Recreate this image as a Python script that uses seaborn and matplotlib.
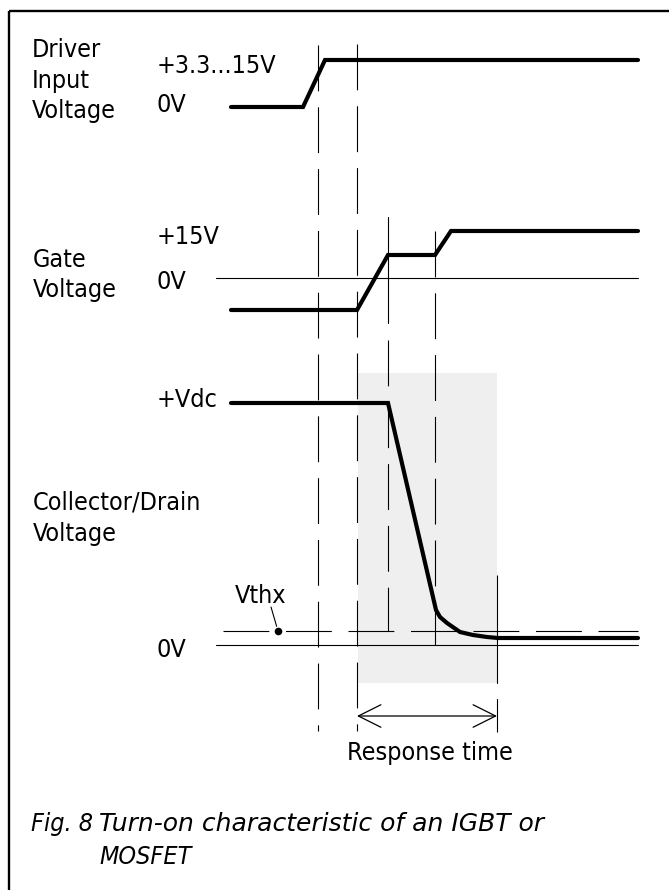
import matplotlib
matplotlib.use('Agg')
import matplotlib.pyplot as plt
import seaborn as sns
from matplotlib.patches import Rectangle

sns.set_theme(style='white')
plt.rcParams['font.family'] = ['DejaVu Sans']
plt.rcParams['lines.scale_dashes'] = False

# waveform breakpoints (time axis, level axis)
t_driver = [231, 303, 325, 638]
v_driver = [107, 107, 60, 60]

t_gate = [231, 357, 388, 435, 451, 638]
v_gate = [310, 310, 255, 255, 231, 231]

t_coll = [231, 388, 436, 440, 447, 460, 473, 487, 498, 638]
v_coll = [403, 403, 610, 617, 623, 632, 635, 637, 638, 638]

# event markers (time)
t_events = [318, 357, 388, 435, 497]

# reference levels
gate_zero = 278
coll_zero = 645
vthx = 631

# labels
driver_name = ['Driver', 'Input', 'Voltage']
gate_name = ['Gate', 'Voltage']
coll_name = ['Collector/Drain', 'Voltage']
level_labels = ['+3.3...15V', '0V', '+15V', '0V', '+Vdc', '0V']
caption_num = 'Fig. 8'
caption_lines = ['Turn-on characteristic of an IGBT or', 'MOSFET']

fig = plt.figure(figsize=(6.69, 8.9), dpi=100)
ax = fig.add_axes([0, 0, 1, 1])
ax.set_xlim(0, 669)
ax.set_ylim(890, 0)
ax.axis('off')

# frame
ax.add_patch(Rectangle((9, 11), 720, 920, fill=False, lw=1.7, ec='black'))

# shaded response-time window
ax.add_patch(Rectangle((t_events[1] + 1, 373), t_events[4] - t_events[1] - 1, 310,
                       fc='#efefef', ec='none', zorder=0))

thin = dict(color='black', lw=0.8)
dash = (0, (33, 11.5))

# vertical event lines
ax.plot([t_events[0]] * 2, [45, 731], ls=dash, **thin)
ax.plot([t_events[1]] * 2, [44, 731], ls=dash, **thin)
ax.plot([t_events[2]] * 2, [217, 323], **thin)
ax.plot([t_events[2]] * 2, [340, vthx], ls=dash, **thin)
ax.plot([t_events[3]] * 2, [231, coll_zero], ls=dash, **thin)
ax.plot([t_events[4]] * 2, [575, 732], ls=(0, (78, 11, 25, 50)), **thin)

# zero lines and threshold
ax.plot([216, 638], [gate_zero] * 2, **thin)
ax.plot([216, 638], [coll_zero] * 2, **thin)
ax.plot([223, 638], [vthx] * 2, ls=(0, (33, 12)), **thin)

# waveforms
for t, v in [(t_driver, v_driver), (t_gate, v_gate), (t_coll, v_coll)]:
    sns.lineplot(x=t, y=v, ax=ax, color='black', lw=3.0, sort=False,
                 estimator=None, solid_capstyle='round', solid_joinstyle='miter')

# Vthx marker and leader
ax.plot([278], [vthx], 'o', color='black', ms=6.5, mec='white', mew=1.0, zorder=5)
ax.plot([271, 278], [607, vthx], **thin)

# response time arrow
ax.annotate('', xy=(t_events[1], 716), xytext=(t_events[4], 716),
            arrowprops=dict(arrowstyle='<->,head_length=0.6,head_width=0.3',
                            mutation_scale=27, lw=0.9, color='black',
                            shrinkA=0, shrinkB=0))

txt = dict(fontsize=18, color='black', va='baseline', ha='left')
cond = dict(txt, fontstretch='condensed')

# signal names
for lab, y in zip(driver_name, [57, 88, 118]):
    ax.text(32, y, lab, **cond)
for lab, y in zip(gate_name, [267, 297]):
    ax.text(33, y, lab, **cond)
for lab, y in zip(coll_name, [510, 541]):
    ax.text(33, y, lab, **cond)

# level labels
for lab, y in zip(level_labels, [73, 112, 244, 289, 407, 657]):
    ax.text(157, y, lab, **cond)

ax.text(235, 603, 'Vthx', **cond)
ax.text(347, 760, 'Response time', **cond)

# caption
ax.text(31, 831, caption_num, style='italic', **cond)
ax.text(99, 831, caption_lines[0], style='italic', **txt)
ax.text(99, 864, caption_lines[1], style='italic', **cond)

fig.savefig('out.png', dpi=100)
